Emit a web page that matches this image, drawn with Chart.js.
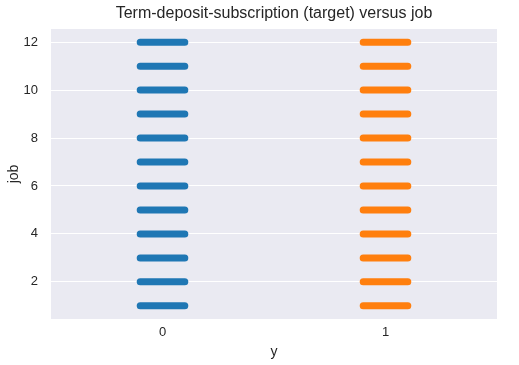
<!DOCTYPE html>
<html>
<head>
<meta charset="utf-8">
<script src="https://cdn.jsdelivr.net/npm/chart.js@4"></script>
<style>
  html, body { margin: 0; padding: 0; background: #fff; }
  #wrap { width: 519px; height: 365px; }
</style>
</head>
<body>
<div id="wrap"><canvas id="chart" width="519" height="365"></canvas></div>
<script>
// categories of the target (y) and job codes
const categories = ['0', '1'];
const jobs = [1, 2, 3, 4, 5, 6, 7, 8, 9, 10, 11, 12];
const yTicks = [2, 4, 6, 8, 10, 12];
// horizontal spread of the jittered points around each category
const jitterLeft = [-0.1, -0.1];
const jitterRight = [0.1, 0.1];
const colors = ['#1f77b4', '#ff7f0e'];
const titleText = 'Term-deposit-subscription (target) versus job';

// each strip is drawn as a short thick segment, null breaks between jobs
function stripData(ci) {
    const pts = [];
    jobs.forEach(j => {
        pts.push({ x: ci + jitterLeft[ci], y: j });
        pts.push({ x: ci + jitterRight[ci], y: j });
        pts.push({ x: ci, y: null });
    });
    return pts;
}

const datasets = categories.map((c, i) => ({
    label: c,
    data: stripData(i),
    borderColor: colors[i],
    backgroundColor: colors[i],
    borderWidth: 7,
    borderCapStyle: 'round',
    pointRadius: 0,
    spanGaps: false,
    fill: false
}));

const font = 'Liberation Sans, Arial, sans-serif';

// gray plot background like seaborn darkgrid, title centred over the plot
const bgPlugin = {
    id: 'bg',
    beforeDraw(chart) {
        const { ctx, chartArea: a } = chart;
        ctx.save();
        ctx.fillStyle = '#EAEAF2';
        ctx.fillRect(a.left, a.top, a.right - a.left, a.bottom - a.top);
        ctx.fillStyle = '#262626';
        ctx.font = '16px ' + font;
        ctx.textAlign = 'center';
        ctx.textBaseline = 'middle';
        ctx.fillText(titleText, (a.left + a.right) / 2, 14);
        ctx.restore();
    }
};

new Chart(document.getElementById('chart').getContext('2d'), {
    type: 'line',
    data: { datasets },
    plugins: [bgPlugin],
    options: {
        responsive: false,
        animation: false,
        layout: { padding: { right: 22, top: 29, left: 0, bottom: 0 } },
        plugins: {
            legend: { display: false },
            tooltip: { enabled: false },
            title: { display: false }
        },
        scales: {
            x: {
                type: 'linear',
                min: -0.5,
                max: 1.5,
                afterBuildTicks: s => { s.ticks = categories.map((c, i) => ({ value: i })); },
                afterFit: s => { s.height = 46; },
                grid: { display: false, drawTicks: false },
                border: { display: false },
                ticks: {
                    color: '#262626',
                    font: { family: font, size: 13 },
                    padding: 6,
                    callback: v => categories[v]
                },
                title: {
                    display: true,
                    text: 'y',
                    color: '#262626',
                    font: { family: font, size: 14 },
                    padding: { top: 0, bottom: 4 }
                }
            },
            y: {
                type: 'linear',
                min: 0.45,
                max: 12.55,
                afterBuildTicks: s => { s.ticks = yTicks.map(v => ({ value: v })); },
                afterFit: s => { s.width = 51; },
                grid: { color: '#ffffff', lineWidth: 1, drawTicks: false },
                border: { display: false },
                ticks: {
                    color: '#262626',
                    font: { family: font, size: 13 },
                    padding: 13
                },
                title: {
                    display: true,
                    text: 'job',
                    color: '#262626',
                    font: { family: font, size: 14 },
                    padding: { top: 6, bottom: 0 }
                }
            }
        }
    }
});
</script>
</body>
</html>
